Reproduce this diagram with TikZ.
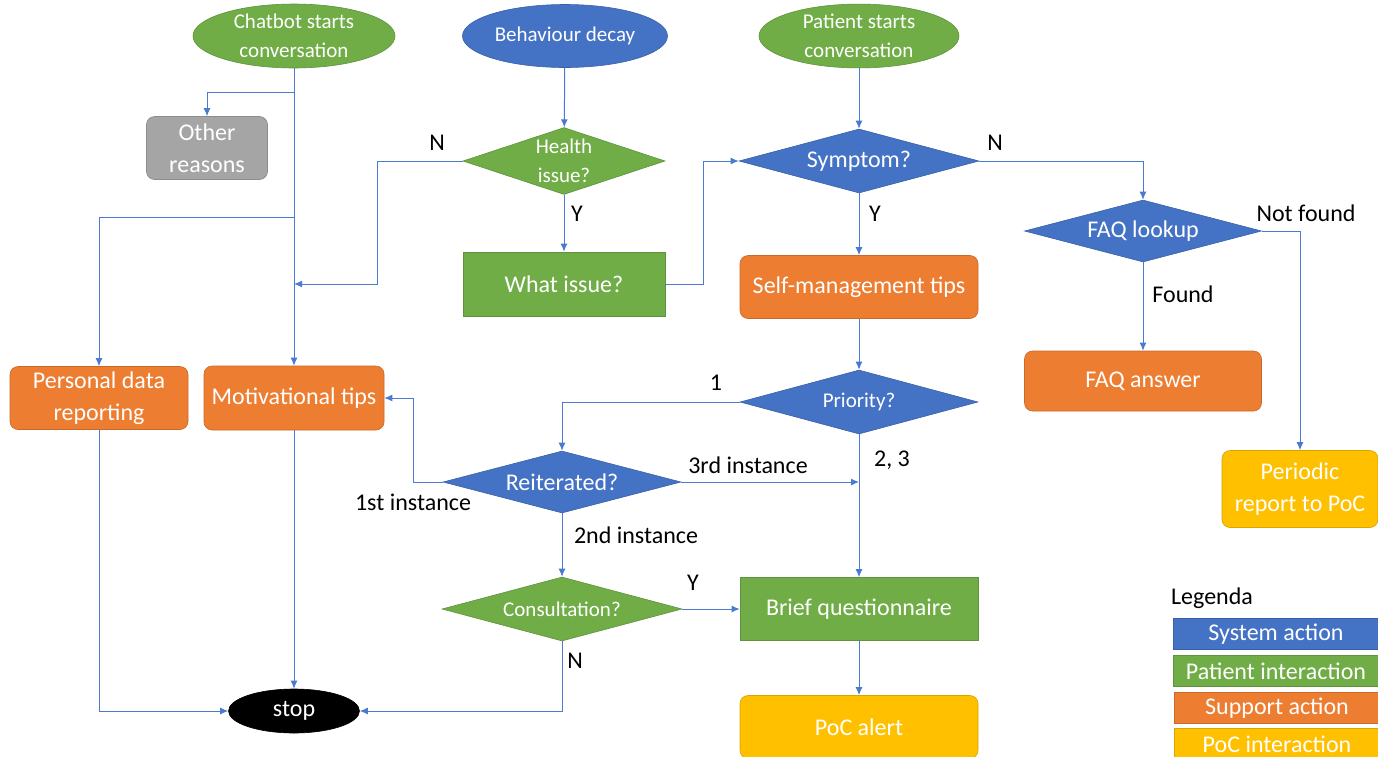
\documentclass[tikz,border=0pt]{standalone}
\usepackage{fontspec}
\setmainfont{Carlito}
\usetikzlibrary{shapes.geometric,arrows.meta}

\definecolor{sysblue}{HTML}{4472C4}
\definecolor{patgreen}{HTML}{70AD47}
\definecolor{suporange}{HTML}{ED7D31}
\definecolor{pocyellow}{HTML}{FFC000}
\definecolor{othgray}{HTML}{A5A5A5}
\definecolor{lineblue}{HTML}{4A7BD0}

\tikzset{
    big/.style={font=\fontsize{24}{32}\selectfont},
    small/.style={font=\fontsize{21}{28.5}\selectfont},
    shapebox/.style={text=white, align=center, inner sep=1pt, line width=0.6pt},
    rbox/.style={shapebox, rectangle, rounded corners=8pt, big},
    sbox/.style={shapebox, rectangle, big},
    oval/.style={shapebox, ellipse, small},
    decide/.style={shapebox, diamond, shape aspect=3.6},
    sys/.style={fill=sysblue, draw=sysblue!85!black},
    pat/.style={fill=patgreen, draw=patgreen!85!black},
    sup/.style={fill=suporange, draw=suporange!85!black},
    poc/.style={fill=pocyellow, draw=pocyellow!85!black},
    line/.style={draw=lineblue, line width=1pt, -{Latex[length=8pt,width=7pt]}},
    lbl/.style={big, text=black, inner sep=0pt},
    legbox/.style={rectangle, text=white, big, minimum width=206pt, minimum height=31pt, inner sep=0pt}
}

\begin{document}
\begin{tikzpicture}[x=1pt, y=-1pt]
    \useasboundingbox (0,0) rectangle (1378,756);

    % Start events
    \node[oval, pat, minimum width=202pt, minimum height=63pt] (chatbot) at (294,36) {Chatbot starts\\conversation};
    \node[oval, sys, minimum width=205pt, minimum height=63pt] (decay) at (565,36) {Behaviour decay};
    \node[oval, pat, minimum width=200pt, minimum height=63pt] (patient) at (859,36) {Patient starts\\conversation};

    % Left column
    \node[rbox, fill=othgray, draw=othgray!85!black, minimum width=121pt, minimum height=63pt] (others) at (207,148) {Other\\reasons};
    \node[rbox, sup, minimum width=178pt, minimum height=63pt] (personal) at (99,398) {Personal data\\reporting};
    \node[rbox, sup, minimum width=180pt, minimum height=64pt] (motiv) at (294,398) {Motivational tips};
    \node[oval, fill=black, draw=black, big, minimum width=131pt, minimum height=44pt] (stop) at (294,711) {stop};

    % Middle column
    \node[decide, pat, small, minimum width=202pt, minimum height=67pt, shape aspect=3] (health) at (564,161) {Health\\issue?};
    \node[sbox, pat, minimum width=202pt, minimum height=64pt] (what) at (564,284) {What issue?};
    \node[decide, sys, big, minimum width=238pt, minimum height=62pt] (reiter) at (562,482) {Reiterated?};
    \node[decide, pat, small, minimum width=240pt, minimum height=64pt] (consult) at (562,609) {Consultation?};

    % Patient column
    \node[decide, sys, big, minimum width=240pt, minimum height=64pt] (symptom) at (859,161) {Symptom?};
    \node[rbox, sup, minimum width=238pt, minimum height=63pt] (selfman) at (859,287) {Self-management tips};
    \node[decide, sys, small, minimum width=238pt, minimum height=64pt] (priority) at (859,402) {Priority?};
    \node[sbox, pat, minimum width=238pt, minimum height=63pt] (brief) at (859,609) {Brief questionnaire};
    \node[rbox, poc, minimum width=238pt, minimum height=63pt] (pocalert) at (859,727) {PoC alert};

    % FAQ column
    \node[decide, sys, big, minimum width=237pt, minimum height=62pt] (faq) at (1143,231) {FAQ lookup};
    \node[rbox, sup, minimum width=237pt, minimum height=60pt] (faqans) at (1143,381) {FAQ answer};
    \node[rbox, poc, minimum width=156pt, minimum height=77pt] (periodic) at (1300,489) {Periodic\\report to PoC};

    % Joints on lines
    \coordinate (splitA) at (294,92);
    \coordinate (splitB) at (294,217);
    \coordinate (joinN) at (294,284);
    \coordinate (join3) at (859,482);

    % Connectors
    \draw[line] (chatbot) -- (motiv);
    \draw[line] (splitA) -| (others);
    \draw[line] (splitB) -| (personal);
    \draw[line] (health.west) -- ++(-85,0) |- (joinN);
    \draw[line] (decay) -- (health);
    \draw[line] (health) -- (what);
    \draw[line] (what.east) -- ++(38,0) |- (symptom.west);
    \draw[line] (patient) -- (symptom);
    \draw[line] (symptom) -- (selfman);
    \draw[line] (symptom.east) -| (faq.north);
    \draw[line] (faq) -- (faqans);
    \draw[line] (faq.east) -| (periodic.north);
    \draw[line] (selfman) -- (priority);
    \draw[line] (priority.west) -| (reiter.north);
    \draw[line] (priority) -- (brief);
    \draw[line] (reiter.east) -- (join3);
    \draw[line] (reiter.west) -- ++(-29,0) |- (motiv.east);
    \draw[line] (reiter) -- (consult);
    \draw[line] (consult) -- (brief);
    \draw[line] (consult.south) |- (stop.east);
    \draw[line] (motiv) -- (stop);
    \draw[line] (personal.south) |- (stop.west);
    \draw[line] (brief) -- (pocalert);

    % Branch labels
    \node[lbl] at (437,143) {N};
    \node[lbl] at (577,214) {Y};
    \node[lbl] at (995,143) {N};
    \node[lbl] at (875,214) {Y};
    \node[lbl] at (1306,213) {Not found};
    \node[lbl] at (1183,294) {Found};
    \node[lbl] at (716,383) {1};
    \node[lbl] at (413,502) {1st instance};
    \node[lbl] at (748,465) {3rd instance};
    \node[lbl] at (892,460) {2, 3};
    \node[lbl] at (636,535) {2nd instance};
    \node[lbl] at (693,583) {Y};
    \node[lbl] at (575,661) {N};

    % Legend
    \node[lbl] at (1212,598) {Legenda};
    \node[legbox, sys] (lsys) at (1276,634) {System action};
    \node[legbox, pat] (lpat) at (1276,671) {Patient interaction};
    \node[legbox, sup] (lsup) at (1277,708) {Support action};
    \node[legbox, poc] (lpoc) at (1277,744) {PoC interaction};
\end{tikzpicture}
\end{document}
